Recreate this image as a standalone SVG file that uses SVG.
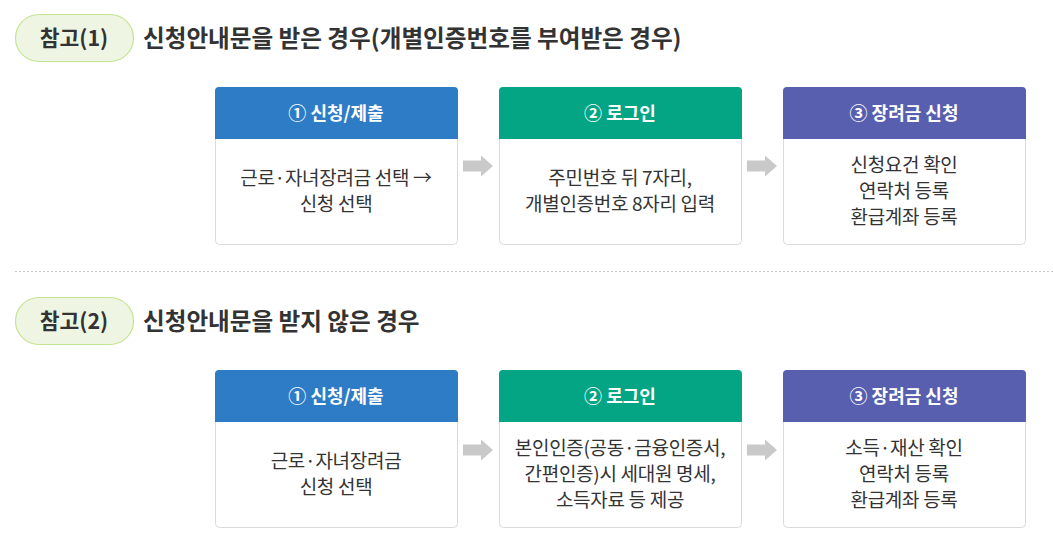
<svg xmlns="http://www.w3.org/2000/svg" width="1053" height="533" viewBox="0 0 1053 533">
<defs>
<style>
text{font-family:"Noto Sans CJK KR","Noto Sans",sans-serif;}
.pill{fill:#eef6e3;stroke:#c5e492;stroke-width:1.2;}
.pt{font-size:21.5px;font-weight:700;fill:#333;text-anchor:middle;}
.title{font-size:23.6px;font-weight:700;fill:#333;}
.box{fill:#fff;stroke:#dadada;stroke-width:1;}
.ht{font-size:18px;font-weight:700;fill:#fff;text-anchor:middle;}
.bt{font-size:19px;fill:#333;text-anchor:middle;letter-spacing:-0.3px;}
.arr{fill:#c9c9c9;}
.blue{fill:#2f7cc6;}
.green{fill:#03a584;}
.purple{fill:#585fae;}
</style>
<path id="ar" d="M0,-5.5 H18 V-10.5 L30,0 L18,10.5 V5.5 H0 Z"/>
</defs>
<rect width="1053" height="533" fill="#fff"/>

<g id="ref1">
<rect class="pill" x="15.5" y="14.5" width="118" height="47" rx="23.5"/>
<text class="pt" x="74" y="45.5">참고(1)</text>
<text class="title" x="143" y="46.5">신청안내문을 받은 경우(개별인증번호를 부여받은 경우)</text>
</g>

<g id="s1-step1">
<rect class="box" x="215.5" y="87.5" width="242" height="157" rx="4"/>
<path class="blue" d="M215,139 V91 a4,4 0 0 1 4,-4 H454 a4,4 0 0 1 4,4 V139 Z"/>
<text class="ht" x="336" y="119.5">① 신청/제출</text>
<text class="bt" x="336" y="185">근로·자녀장려금 선택 →</text>
<text class="bt" x="336" y="211">신청 선택</text>
</g>
<g id="s1-step2">
<rect class="box" x="499.5" y="87.5" width="242" height="157" rx="4"/>
<path class="green" d="M499,139 V91 a4,4 0 0 1 4,-4 H738 a4,4 0 0 1 4,4 V139 Z"/>
<text class="ht" x="620" y="119.5">② 로그인</text>
<text class="bt" x="620" y="185">주민번호 뒤 7자리,</text>
<text class="bt" x="620" y="211">개별인증번호 8자리 입력</text>
</g>
<g id="s1-step3">
<rect class="box" x="783.5" y="87.5" width="242" height="157" rx="4"/>
<path class="purple" d="M783,139 V91 a4,4 0 0 1 4,-4 H1022 a4,4 0 0 1 4,4 V139 Z"/>
<text class="ht" x="904" y="119.5">③ 장려금 신청</text>
<text class="bt" x="904" y="172">신청요건 확인</text>
<text class="bt" x="904" y="198">연락처 등록</text>
<text class="bt" x="904" y="224">환급계좌 등록</text>
</g>

<line x1="15" y1="271.5" x2="1053" y2="271.5" stroke="#c8c8c8" stroke-width="1" stroke-dasharray="2,2"/>

<g id="ref2">
<rect class="pill" x="15.5" y="297.5" width="118" height="47" rx="23.5"/>
<text class="pt" x="74" y="328.5">참고(2)</text>
<text class="title" x="143" y="329.5">신청안내문을 받지 않은 경우</text>
</g>

<g id="s2-step1">
<rect class="box" x="215.5" y="370.5" width="242" height="157" rx="4"/>
<path class="blue" d="M215,422 V374 a4,4 0 0 1 4,-4 H454 a4,4 0 0 1 4,4 V422 Z"/>
<text class="ht" x="336" y="402.5">① 신청/제출</text>
<text class="bt" x="336" y="468">근로·자녀장려금</text>
<text class="bt" x="336" y="494">신청 선택</text>
</g>
<g id="s2-step2">
<rect class="box" x="499.5" y="370.5" width="242" height="157" rx="4"/>
<path class="green" d="M499,422 V374 a4,4 0 0 1 4,-4 H738 a4,4 0 0 1 4,4 V422 Z"/>
<text class="ht" x="620" y="402.5">② 로그인</text>
<text class="bt" x="620" y="455">본인인증(공동·금융인증서,</text>
<text class="bt" x="620" y="481">간편인증)시 세대원 명세,</text>
<text class="bt" x="620" y="507">소득자료 등 제공</text>
</g>
<g id="s2-step3">
<rect class="box" x="783.5" y="370.5" width="242" height="157" rx="4"/>
<path class="purple" d="M783,422 V374 a4,4 0 0 1 4,-4 H1022 a4,4 0 0 1 4,4 V422 Z"/>
<text class="ht" x="904" y="402.5">③ 장려금 신청</text>
<text class="bt" x="904" y="455">소득·재산 확인</text>
<text class="bt" x="904" y="481">연락처 등록</text>
<text class="bt" x="904" y="507">환급계좌 등록</text>
</g>

<g id="connectors" class="arr">
<use href="#ar" x="463" y="166"/>
<use href="#ar" x="747" y="166"/>
<use href="#ar" x="463" y="450"/>
<use href="#ar" x="747" y="450"/>
</g>
</svg>
